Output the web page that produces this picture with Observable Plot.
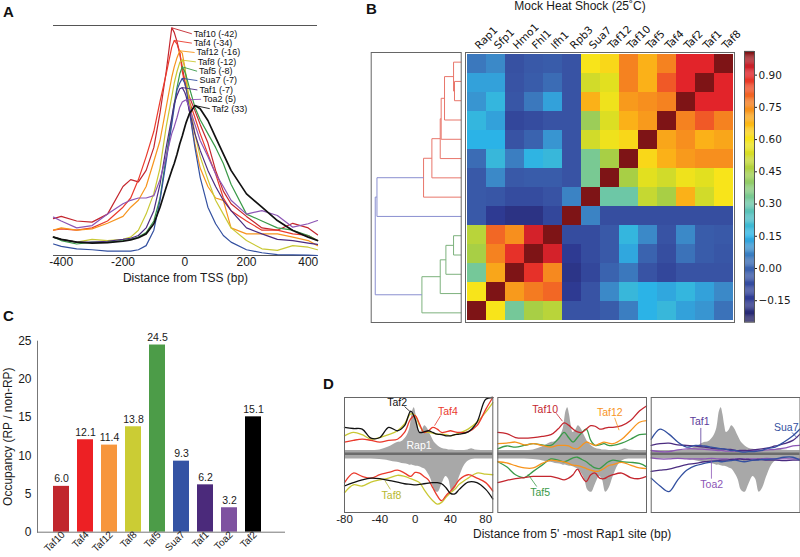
<!DOCTYPE html>
<html>
<head>
<meta charset="utf-8">
<script src="https://cdn.jsdelivr.net/npm/d3@7"></script>
<script src="https://cdn.jsdelivr.net/npm/@observablehq/plot@0.6"></script>
<style>
html,body{margin:0;padding:0;background:#fff;}
#fig{position:relative;width:800px;height:557px;overflow:hidden;background:#fff;font-family:"Liberation Sans",Arial,sans-serif;color:#1a1a1a;}
</style>
</head>
<body>
<div id="fig"></div>
<script>
// ================= DATA =================
// Panel A: TSS profiles (arbitrary units)
const tssPos = [-425,-400,-350,-300,-250,-200,-175,-150,-125,-100,-80,-60,-42,-34,-25,-16,-8,0,5,15,33,50,75,100,125,150,200,250,300,350,400,430];
const aNames = ["Taf10","Taf4","Taf12","Taf8","Taf5","Sua7","Taf1","Toa2","Taf2"];
const aPeaks = [-42,-34,-16,-12,-8,-7,-7,5,33];
const aTaf10 = [16,17,15,14.5,18,30,33,32,37,47,62,80,99,97,93,88,82,76,73,69,63,57,49,37,28,22.5,17,12,11,14,12,9];
const aTaf4  = [11,11.6,11,12,15,21,25,33,43,54,67,79,90.6,93.5,92,88,80,75,72,67,60,53,44,35.5,25,19.5,15,11,11,9.4,8.7,6.5];
const aTaf12 = [11,12,11,11.6,14,17,21,24,30,41,50,64.5,77.5,82,86,89,88,82,76,63,48.6,38,30,25,24,12,9.4,9.4,9.4,8,6.5,4.3];
const aTaf8  = [8,7,5.8,7,6.5,7,8,11,18,27,38,56,69,75,80,84,85,82,77.5,67,53,43,33,24,18,12,6.5,2.9,2.2,4.3,3.6,2.5];
const aTaf5  = [8,6.5,5,5.8,5.8,6.5,7,8,10,15,25,43,59,66,73,79,82,80,78,73,64.5,59,53,47,40,31,18,15,12,11,8.7,6.5];
const aSua7  = [5,4,2.9,2.5,1.9,1.9,1.9,2.5,4.3,11,24,41,57,64.5,72,75,77,75,72.5,63,47,34,21,13.8,8.7,5.8,2.5,1.2,0.4,0.3,0.2,0];
const aTaf1  = [8,7,5.8,5.8,6.2,7,7.5,8.7,12,19.5,31,47,60,66,69.6,72.5,73,71,69,63,53,45.7,37,30,24,19.5,12,9.4,7,6.5,5.4,4.8];
const aToa2  = [16.7,15,12,13,18,22.5,24,25,25,26,33,43,53,56,60,64.5,66.7,67.4,67.7,64.5,57,50,43,35.5,30,24,18,19.5,17.4,12.3,13.8,15.2];
const aTaf2  = [8,7,5.8,5.4,5.6,6.2,6.8,7.7,9.4,13.8,21,29.7,37,40,44,48.6,52,55.8,58,61.6,65.2,63.8,58.7,51.4,44.2,37,26.8,21,15.2,10.9,8,6.5];

// Panel B: correlation matrix (rows top->bottom, columns left->right)
const heatCols = ["Rap1","Sfp1","Hmo1","Fhl1","Ifh1","Rpb3","Sua7","Taf12","Taf10","Taf5","Taf4","Taf2","Taf1","Taf8"];
const heatRows = ["Taf8","Taf1","Taf2","Taf4","Taf5","Taf10","Taf12","Sua7","Rpb3","Ifh1","Fhl1","Hmo1","Sfp1","Rap1"];
const corr = [
 [0.05,0.08,-0.06,-0.03,-0.02,-0.05,0.60,0.62,0.76,0.68,0.76,0.90,0.90,1.00],
 [0.12,0.12,-0.05,-0.02,0.03,-0.05,0.52,0.55,0.76,0.68,0.82,0.90,1.00,0.90],
 [0.10,0.17,-0.04,0.05,0.12,-0.05,0.68,0.58,0.72,0.74,0.76,1.00,0.90,0.90],
 [0.17,0.12,-0.10,-0.08,-0.05,-0.05,0.42,0.54,0.68,0.72,1.00,0.76,0.82,0.76],
 [0.15,0.15,-0.05,0.00,0.10,-0.05,0.52,0.58,0.62,1.00,0.70,0.74,0.68,0.70],
 [0.03,0.18,0.06,0.16,0.18,-0.05,0.33,0.45,1.00,0.62,0.68,0.72,0.74,0.74],
 [-0.03,0.08,-0.03,-0.02,-0.02,-0.05,0.33,1.00,0.45,0.55,0.52,0.58,0.55,0.60],
 [-0.03,-0.04,-0.08,-0.08,-0.05,0.07,1.00,0.30,0.30,0.50,0.45,0.68,0.52,0.60],
 [-0.03,-0.15,-0.18,-0.18,-0.10,1.00,0.07,-0.07,-0.07,-0.07,-0.07,-0.07,-0.07,-0.07],
 [0.48,0.80,0.74,0.92,1.00,-0.08,-0.08,-0.03,0.17,0.08,-0.05,0.08,-0.02,-0.03],
 [0.45,0.76,0.88,1.00,0.92,-0.15,-0.08,-0.03,0.13,0.00,-0.07,0.04,-0.02,-0.04],
 [0.32,0.70,1.00,0.88,0.75,-0.17,-0.10,0.00,0.05,-0.05,-0.10,-0.05,-0.05,-0.05],
 [0.60,1.00,0.72,0.77,0.80,-0.15,-0.05,0.08,0.18,0.15,0.13,0.17,0.12,0.08],
 [1.00,0.60,0.32,0.45,0.48,-0.05,-0.05,-0.02,0.06,0.15,0.18,0.12,0.10,0.04]
];
// Dendrogram linkage (leaf indices = heatRows order; new nodes numbered from 14)
const linkLeft   = [1,0,15,16,17,18,19,9,21,22,23,20,25];
const linkRight  = [2,14,3,4,5,6,7,10,11,12,13,8,24];
const linkHeight = [0.078,0.089,0.194,0.233,0.244,0.341,0.438,0.089,0.178,0.244,0.457,0.98,1.0];
const linkGroup  = ["r","r","r","r","r","r","r","g","g","g","g","b","b"];
const cbTicks = [-0.15,0,0.15,0.3,0.45,0.6,0.75,0.9];

// Panel C: occupancy ratio
const cNames  = ["Taf10","Taf4","Taf12","Taf8","Taf5","Sua7","Taf1","Toa2","Taf2"];
const cValues = [6.0,12.1,11.4,13.8,24.5,9.3,6.2,3.2,15.1];

// Panel D: profiles around 5'-most Rap1 site
const dPos = [-80,-70,-60,-50,-40,-30,-20,-12,-5,0,5,10,15,20,25,30,35,40,45,50,60,70,80,88];
const gPos = [-80,-60,-40,-30,-25,-20,-15,-10,-6,-3,-1,1,3,5,8,11,14,18,22,26,30,35,38,42,46,50,56,60,64,68,75,88];
const rap1Top = [.06,.06,.07,.12,.16,.2,.22,.3,.45,.75,.82,.7,.5,.38,.42,.5,.45,.32,.2,.14,.1,.08,.07,.07,.06,.06,.06,.07,.09,.07,.06,.06];
const rap1Bot = [-.09,-.09,-.1,-.12,-.14,-.15,-.17,-.18,-.2,-.2,-.21,-.22,-.22,-.23,-.25,-.27,-.33,-.45,-.65,-.68,-.55,-.4,-.45,-.68,-.6,-.42,-.2,-.13,-.1,-.09,-.09,-.09];
// sub-panel 1
const d1Taf2Top = [.47,.45,.44,.28,.29,.47,.41,.50,.76,.62,.38,.39,.41,.38,.35,.34,.32,.32,.34,.35,.39,.56,.97,1.0];
const d1Taf4Top = [.21,.24,.26,.24,.21,.24,.26,.38,.62,.68,.53,.38,.41,.47,.44,.38,.39,.41,.39,.38,.39,.50,.79,1.0];
const d1Taf8Top = [.32,.38,.34,.26,.29,.34,.41,.53,.71,.68,.50,.39,.38,.37,.35,.35,.34,.32,.34,.37,.44,.56,.74,.91];
const d1Taf4Bot = [-.51,-.34,-.40,-.43,-.37,-.33,-.29,-.34,-.40,-.33,-.34,-.40,-.46,-.60,-.74,-.83,-.74,-.66,-.57,-.46,-.37,-.43,-.51,-.66];
const d1Taf2Bot = [-.57,-.51,-.46,-.43,-.44,-.47,-.50,-.53,-.54,-.55,-.54,-.53,-.52,-.51,-.51,-.53,-.60,-.70,-.71,-.63,-.50,-.51,-.63,-.80];
const d1Taf8Bot = [-.69,-.55,-.57,-.50,-.46,-.43,-.38,-.40,-.44,-.47,-.51,-.63,-.74,-.83,-.89,-.86,-.77,-.69,-.63,-.54,-.43,-.34,-.36,-.37];
// sub-panel 2
const d2Taf10Top = [.38,.36,.29,.28,.29,.31,.34,.44,.55,.51,.44,.39,.38,.44,.50,.49,.44,.45,.47,.47,.50,.59,.76,.85];
const d2Taf12Top = [.18,.19,.21,.16,.18,.15,.12,.15,.15,.14,.10,.09,.15,.21,.18,.15,.18,.21,.19,.18,.26,.41,.56,.59];
const d2Taf5Top  = [.09,.14,.12,.15,.18,.16,.15,.26,.38,.29,.21,.29,.38,.44,.24,.15,.16,.18,.15,.15,.19,.26,.34,.35];
const d2Taf10Bot = [-.51,-.47,-.44,-.42,-.40,-.40,-.40,-.43,-.46,-.43,-.37,-.27,-.40,-.49,-.37,-.34,-.43,-.44,-.40,-.37,-.34,-.42,-.44,-.40];
const d2Taf12Bot = [-.14,-.16,-.21,-.25,-.25,-.17,-.11,-.13,-.14,-.17,-.20,-.21,-.23,-.26,-.29,-.31,-.30,-.26,-.21,-.19,-.15,-.20,-.25,-.26];
const d2Taf5Bot  = [-.14,-.23,-.37,-.42,-.31,-.20,-.09,-.11,-.14,-.11,-.07,-.06,-.10,-.14,-.20,-.25,-.26,-.20,-.14,-.11,-.14,-.15,-.17,-.23];
// sub-panel 3
const d3Sua7Top = [.26,.44,.35,.21,.12,.15,.14,.12,.10,.09,.08,.06,.06,.04,.03,.04,.04,.05,.06,.09,.12,.21,.32,.44];
const d3Taf1Top = [.15,.18,.19,.16,.15,.14,.12,.10,.09,.09,.08,.08,.06,.06,.06,.06,.07,.08,.09,.10,.14,.18,.24,.35];
const d3Toa2Top = [.06,.04,.04,.07,.09,.09,.08,.07,.06,.06,.05,.05,.05,.05,.05,.06,.06,.06,.06,.07,.08,.10,.14,.15];
const d3Sua7Bot = [-.43,-.57,-.67,-.46,-.29,-.21,-.17,-.14,-.13,-.14,-.13,-.12,-.11,-.13,-.14,-.13,-.11,-.11,-.10,-.10,-.09,-.06,-.06,-.11];
const d3Taf1Bot = [-.31,-.29,-.27,-.23,-.19,-.17,-.14,-.13,-.12,-.11,-.11,-.10,-.10,-.09,-.10,-.10,-.11,-.10,-.10,-.11,-.11,-.12,-.11,-.11];
const d3Toa2Bot = [-.07,-.09,-.09,-.08,-.09,-.09,-.09,-.08,-.09,-.09,-.09,-.10,-.09,-.09,-.09,-.09,-.09,-.09,-.09,-.08,-.09,-.09,-.09,-.09];

// ================= STYLE =================
const COL = {Taf10:"#c4262e",Taf4:"#ea3a2c",Taf12:"#f7941d",Taf8:"#c9c834",Taf5:"#3a9a48",Sua7:"#3350a0",Taf1:"#4b2c80",Toa2:"#8c55b5",Taf2:"#111111"};
const barCol = {Taf10:"#c1272d",Taf4:"#ed2024",Taf12:"#f7963c",Taf8:"#cbcc34",Taf5:"#4c9c48",Sua7:"#3453a4",Taf1:"#4b2a7b",Toa2:"#7e52a0",Taf2:"#000000"};
const jetVals = [-0.25,-0.15,-0.05,0.03,0.09,0.15,0.30,0.45,0.55,0.60,0.66,0.75,0.83,0.90,0.95,1.0];
const jetCols = ["#262262","#2e3a92","#3853a4","#3b6cb5","#3b8fcc","#2bb3e7","#6dc7a6","#a8cf45","#e2e01f","#f8e41a","#fcbd16","#f6891f","#ef5228","#e2242a","#c0202a","#7e1416"];
const dendCol = {r:"#e8766b", g:"#7db27d", b:"#8a8fd0"};
const FONT = "'Liberation Sans', Arial, sans-serif";
const MPL = "'DejaVu Sans', sans-serif";

const fig = document.getElementById("fig");
function place(el,left,top){el.style.position="absolute";el.style.left=left+"px";el.style.top=top+"px";fig.appendChild(el);return el;}
function html(text,left,top,css){const d=document.createElement("div");d.textContent=text;d.style.cssText=`position:absolute;left:${left}px;top:${top}px;white-space:nowrap;${css||""}`;fig.appendChild(d);return d;}
const style=(extra)=>Object.assign({background:"transparent",overflow:"visible",fontFamily:FONT,fontSize:"12px",color:"#1a1a1a"},extra||{});

// ================= PANEL A =================
const aSeries = [aTaf10,aTaf4,aTaf12,aTaf8,aTaf5,aSua7,aTaf1,aToa2,aTaf2];
const aRows = aSeries.flatMap((vals,i)=>vals.map((v,j)=>({name:aNames[i],x:tssPos[j],y:v,color:COL[aNames[i]]})));
const aLabels = aNames.map((n,i)=>({text:`${n} (${aPeaks[i]})`,px:aPeaks[i],py:d3.max(aSeries[i]),lx:Math.max(23,aPeaks[i]+48),ly:96.4-i*4.07,color:COL[n]}));
place(Plot.plot({
  width:330,height:290,marginLeft:53,marginRight:13,marginTop:25,marginBottom:35,
  style:style(),
  x:{domain:[-425,430]},
  y:{domain:[0,100],axis:null},
  marks:[
    Plot.ruleY([0,100],{stroke:"#555",strokeWidth:1.2}),
    Plot.line(aRows.filter(d=>d.name!=="Taf2"),{x:"x",y:"y",z:"name",stroke:"color",strokeWidth:1.2}),
    Plot.line(aRows.filter(d=>d.name==="Taf2"),{x:"x",y:"y",z:"name",stroke:"color",strokeWidth:1.7}),
    Plot.link(aLabels,{x1:"px",y1:"py",x2:"lx",y2:"ly",stroke:"color",strokeWidth:0.9}),
    Plot.text(aLabels,{x:"lx",y:"ly",text:"text",textAnchor:"start",dx:2,fontSize:9,fill:"#111"}),
    Plot.axisX({ticks:[-400,-200,0,200,400],tickSize:0,tickPadding:2,tickFormat:d=>String(d),fontSize:12,label:null}),
    Plot.text(["Distance from TSS (bp)"],{frameAnchor:"bottom",lineAnchor:"middle",dy:23,fontSize:12})
  ]
}),0,0);

// ================= PANEL B =================
html("Mock Heat Shock (25˚C)",480,0,"width:200px;text-align:center;font-size:12px;line-height:12px;");
// dendrogram
const nodeY = heatRows.map((_,i)=>i), nodeH = heatRows.map(()=>0);
const segs = [];
linkLeft.forEach((a,k)=>{
  const b = linkRight[k], h = linkHeight[k], g = dendCol[linkGroup[k]];
  segs.push({x1:h,y1:nodeY[a],x2:h,y2:nodeY[b],c:g});
  segs.push({x1:nodeH[a],y1:nodeY[a],x2:h,y2:nodeY[a],c:g});
  segs.push({x1:nodeH[b],y1:nodeY[b],x2:h,y2:nodeY[b],c:g});
  nodeY.push((nodeY[a]+nodeY[b])/2); nodeH.push(h);
});
place(Plot.plot({
  width:95,height:330,marginLeft:2.7,marginRight:2.3,marginTop:52,marginBottom:8,
  style:style(),
  x:{domain:[1.047,0],axis:null},
  y:{domain:[13.5,-0.5],axis:null},
  marks:[
    Plot.link(segs,{x1:"x1",y1:"y1",x2:"x2",y2:"y2",stroke:"c",strokeWidth:1}),
    Plot.frame({stroke:"#666"})
  ]
}),368,0);
// heatmap
const cells = heatRows.flatMap((r,i)=>heatCols.map((c,j)=>({row:r,col:c,v:corr[i][j]})));
place(Plot.plot({
  width:280,height:330,marginLeft:3,marginRight:8,marginTop:52,marginBottom:8,
  style:style({fontFamily:MPL}),
  x:{domain:heatCols,padding:0,axis:null},
  y:{domain:heatRows,padding:0,axis:null},
  color:{type:"linear",domain:jetVals,range:jetCols,clamp:true},
  marks:[
    Plot.cell(cells,{x:"col",y:"row",fill:"v",inset:0}),
    Plot.frame({stroke:"#666"}),
    Plot.text(heatCols,{x:d=>d,frameAnchor:"top",rotate:-45,textAnchor:"start",dx:-3,dy:-8,fontSize:10.5,fill:"#111"})
  ]
}),462,0);
// colorbar
const ramp = d3.range(-0.25,1.01,0.005).map(v=>({v0:v,v1:v+0.0055}));
place(Plot.plot({
  width:60,height:330,marginLeft:4,marginRight:46,marginTop:51,marginBottom:8.3,
  style:style({fontFamily:MPL}),
  x:{axis:null},
  y:{domain:[-0.25,1.01]},
  color:{type:"linear",domain:jetVals,range:jetCols,clamp:true},
  marks:[
    Plot.rect(ramp,{y1:"v0",y2:"v1",fill:"v0"}),
    Plot.frame({stroke:"#555"}),
    Plot.axisY({anchor:"right",ticks:cbTicks,tickFormat:d3.format(".2f"),tickSize:2,tickPadding:2,fontSize:10.5,label:null})
  ]
}),740,0);

// ================= PANEL C =================
const cData = cNames.map((n,i)=>({name:n,value:cValues[i],color:barCol[n]}));
place(Plot.plot({
  width:300,height:257,marginLeft:37,marginRight:15,marginTop:40.7,marginBottom:25.3,
  style:style(),
  x:{domain:cNames,range:[48.4,265.3],paddingInner:0.32,paddingOuter:0.16,axis:null},
  y:{domain:[0,25]},
  marks:[
    Plot.barY(cData,{x:"name",y:"value",fill:"color"}),
    Plot.frame({anchor:"left",stroke:"#777"}),
    Plot.ruleY([0],{stroke:"#777"}),
    Plot.text(cData,{x:"name",y:"value",text:d=>d.value.toFixed(1),lineAnchor:"bottom",dy:-4,fontSize:10.5}),
    Plot.text(cNames,{x:d=>d,frameAnchor:"bottom",rotate:-45,textAnchor:"end",dx:4,dy:3,fontSize:10}),
    Plot.axisY({ticks:[0,5,10,15,20,25],tickSize:0,tickPadding:6,fontSize:12,label:"Occupancy (RP / non-RP)",labelAnchor:"center",labelOffset:34,labelArrow:"none"})
  ]
}),0,300);

// ================= PANEL D =================
function dPlot(width,mL,mR,lines,notes,showAxis,showTitle){
  const rows = lines.flatMap(s=>s.vals.map((v,j)=>({key:s.key,x:dPos[j],y:v,color:s.color})));
  const marks = [
    Plot.areaY(gPos.map((x,i)=>({x,y:rap1Top[i]})),{x:"x",y:"y",fill:"#a8a8a8",curve:"catmull-rom"}),
    Plot.areaY(gPos.map((x,i)=>({x,y:rap1Bot[i]})),{x:"x",y:"y",fill:"#a8a8a8",curve:"catmull-rom"}),
    Plot.ruleY([0],{stroke:"#6b6b6b",strokeWidth:2.5}),
    Plot.line(rows,{x:"x",y:"y",z:"key",stroke:"color",strokeWidth:1.3,curve:"catmull-rom"}),
    Plot.link(notes.filter(n=>n.l),{x1:d=>d.l[0],y1:d=>d.l[1],x2:d=>d.l[2],y2:d=>d.l[3],stroke:"color",strokeWidth:0.8}),
    Plot.text(notes,{x:"x",y:"y",text:"text",fill:"color",fontSize:10.5}),
    Plot.frame({stroke:"#666"})
  ];
  if (showAxis) marks.push(Plot.axisX({ticks:[-80,-40,0,40,80],tickSize:0,tickPadding:2,tickFormat:d=>String(d),fontSize:11.5,label:null}));
  if (showTitle) marks.push(Plot.text(["Distance from 5' -most Rap1 site (bp)"],{frameAnchor:"bottom",lineAnchor:"middle",dy:22,fontSize:12}));
  return Plot.plot({
    width,height:167,marginLeft:mL,marginRight:mR,marginTop:7,marginBottom:45,
    style:style(),
    x:showAxis?{domain:[-80,88]}:{domain:[-80,88],axis:null},
    y:{domain:[-1.04,1],axis:null},
    marks
  });
}
place(dPlot(170,14,7.7,[
  {key:"t8",vals:d1Taf8Top,color:COL.Taf8},{key:"t4",vals:d1Taf4Top,color:COL.Taf4},{key:"t2",vals:d1Taf2Top,color:COL.Taf2},
  {key:"b8",vals:d1Taf8Bot,color:COL.Taf8},{key:"b4",vals:d1Taf4Bot,color:COL.Taf4},{key:"b2",vals:d1Taf2Bot,color:COL.Taf2}
],[
  {text:"Taf2",x:-20.3,y:0.91,color:"#111",l:[-12,0.84,-5,0.74]},
  {text:"Taf4",x:37.2,y:0.75,color:COL.Taf4,l:[29,0.68,22,0.5]},
  {text:"Rap1",x:4.4,y:0.15,color:"#fff"},
  {text:"Taf8",x:-26.8,y:-0.74,color:"#b8b830",l:[-28,-0.63,-34,-0.48]}
],true,false),330,390);
place(dPlot(160,7.3,4,[
  {key:"t5",vals:d2Taf5Top,color:COL.Taf5},{key:"t12",vals:d2Taf12Top,color:COL.Taf12},{key:"t10",vals:d2Taf10Top,color:COL.Taf10},
  {key:"b5",vals:d2Taf5Bot,color:COL.Taf5},{key:"b12",vals:d2Taf12Bot,color:COL.Taf12},{key:"b10",vals:d2Taf10Bot,color:COL.Taf10}
],[
  {text:"Taf10",x:-26.5,y:0.79,color:COL.Taf10,l:[-14,0.72,-7,0.58]},
  {text:"Taf12",x:46.6,y:0.73,color:COL.Taf12,l:[52,0.64,57,0.42]},
  {text:"Taf5",x:-32.2,y:-0.68,color:COL.Taf5,l:[-36,-0.58,-46,-0.36]}
],false,true),490,390);
place(dPlot(155,5.7,0.5,[
  {key:"t9",vals:d3Toa2Top,color:COL.Toa2},{key:"t1",vals:d3Taf1Top,color:COL.Taf1},{key:"t7",vals:d3Sua7Top,color:COL.Sua7},
  {key:"b9",vals:d3Toa2Bot,color:COL.Toa2},{key:"b1",vals:d3Taf1Bot,color:COL.Taf1},{key:"b7",vals:d3Sua7Bot,color:COL.Sua7}
],[
  {text:"Taf1",x:-25.3,y:0.57,color:"#5b3c9a",l:[-24,0.46,-24,0.14]},
  {text:"Sua7",x:72.5,y:0.47,color:COL.Sua7,l:[79,0.38,85,0.28]},
  {text:"Toa2",x:-11.7,y:-0.54,color:COL.Toa2,l:[-12,-0.44,-12,-0.1]}
],false,false),645,390);

// ================= PANEL LETTERS =================
const letterCss = "font-weight:bold;font-size:15px;line-height:15px;color:#111;";
html("A",3,4,letterCss);
html("B",366,1,letterCss);
html("C",3,308,letterCss);
html("D",323,376,letterCss);
</script>
</body>
</html>
